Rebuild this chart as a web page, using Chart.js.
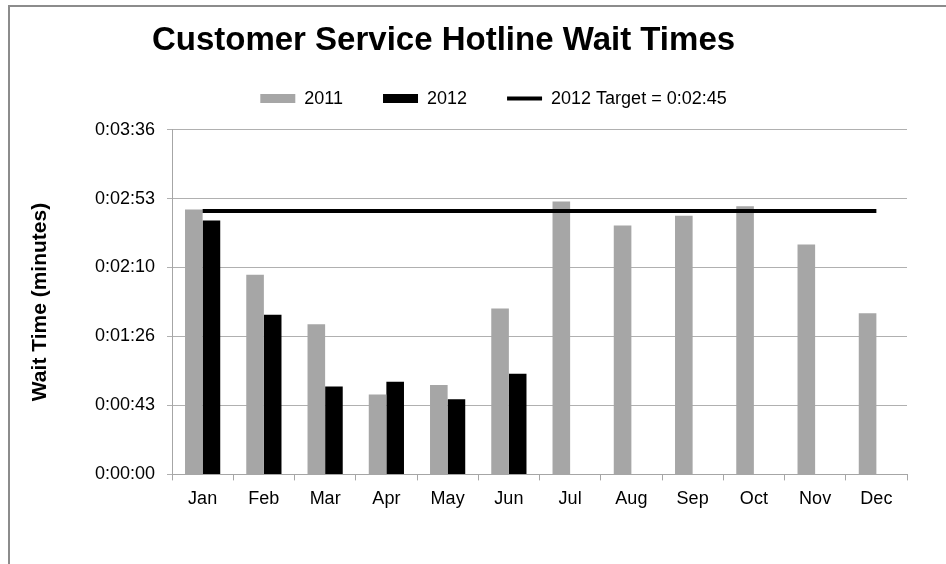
<!DOCTYPE html>
<html>
<head>
<meta charset="utf-8">
<title>Customer Service Hotline Wait Times</title>
<script src="https://cdn.jsdelivr.net/npm/chart.js@4.4.0/dist/chart.umd.min.js"></script>
<style>
    html, body { margin: 0; padding: 0; background: #fff; overflow: hidden; }
    /* grey frame of the chart object, cropped by the window */
    .frame { position: absolute; left: 8px; top: 5px; width: 980px; height: 600px; border-left: 2px solid #8c8c8c; border-top: 2px solid #8c8c8c; }
    .chart-box { position: relative; width: 946px; height: 564px; }
</style>
</head>
<body>
<div class="frame"></div>
<div class="chart-box"><canvas id="waitChart"></canvas></div>

<script>
// Data (wait times in seconds)
const months = ['Jan', 'Feb', 'Mar', 'Apr', 'May', 'Jun', 'Jul', 'Aug', 'Sep', 'Oct', 'Nov', 'Dec']
const waits2011 = [166, 125, 94, 50, 56, 104, 171, 156, 162, 168, 144, 101]
const waits2012 = [159, 100, 55, 58, 47, 63]
const target2012 = [165, 165, 165, 165, 165, 165, 165, 165, 165, 165, 165, 165]
const yTickLabels = ['0:00:00', '0:00:43', '0:01:26', '0:02:10', '0:02:53', '0:03:36']

Chart.defaults.font.family = "'Liberation Sans', Arial, sans-serif"
Chart.defaults.color = '#000'

// Excel places title and legend on their own, not centred on the same axis
function moveBox(box, dx, dy) {
    if (!box) return
    box.left += dx
    box.right += dx
    box.top += dy
    box.bottom += dy
}

const nudgeHeader = {
    id: 'nudgeHeader',
    afterLayout(chart) {
        moveBox(chart.titleBlock, -20, 0)
        moveBox(chart.legend, 30, -12)
    }
}

const ctx = document.getElementById('waitChart')
new Chart(ctx, {
    type: 'bar',
    data: {
        labels: months,
        datasets: [
            { label: '2011', data: waits2011, backgroundColor: '#a6a6a6', order: 1 },
            { label: '2012', data: waits2012, backgroundColor: '#000000', order: 1 },
            {
                type: 'line',
                label: '2012 Target = 0:02:45',
                data: target2012,
                borderColor: '#000000',
                backgroundColor: '#000000',
                borderWidth: 4,
                pointRadius: 0,
                order: 0   // drawn on top of the bars
            }
        ]
    },
    options: {
        responsive: true,
        maintainAspectRatio: false,
        animation: false,
        layout: { padding: { left: 20, right: 39, top: 9, bottom: 46 } },
        datasets: {
            bar: { categoryPercentage: 0.575, barPercentage: 1 }
        },
        scales: {
            x: {
                grid: { drawOnChartArea: false, color: '#a6a6a6', tickLength: 6 },
                border: { color: '#a6a6a6' },
                ticks: { color: '#000', font: { size: 18 }, padding: 8 }
            },
            y: {
                min: 0,
                max: 216,
                afterFit: function(scale) { scale.width = 152 },
                ticks: {
                    stepSize: 43.2,
                    color: '#000',
                    font: { size: 18 },
                    padding: 12,
                    callback: function(value, index) { return yTickLabels[index] }
                },
                grid: { color: '#b0b0b0', tickLength: 5 },
                border: { color: '#a6a6a6' },
                title: {
                    display: true,
                    text: 'Wait Time (minutes)',
                    color: '#000',
                    font: { size: 21, weight: 'bold' },
                    padding: { top: 8, bottom: 0 }
                }
            }
        },
        plugins: {
            title: {
                display: true,
                text: 'Customer Service Hotline Wait Times',
                color: '#000',
                font: { size: 33, weight: 'bold' },
                padding: { top: 12, bottom: 1 }
            },
            legend: {
                labels: {
                    color: '#000',
                    font: { size: 18 },
                    usePointStyle: true,
                    pointStyleWidth: 35,
                    boxHeight: 9,
                    padding: 40,
                    sort: function(a, b) { return a.datasetIndex - b.datasetIndex },
                    generateLabels: function(chart) {
                        const items = Chart.defaults.plugins.legend.labels.generateLabels(chart)
                        items.forEach(item => {
                            const ds = chart.data.datasets[item.datasetIndex]
                            item.pointStyle = ds.type === 'line' ? 'line' : 'rect'
                        })
                        return items
                    }
                }
            },
            tooltip: { enabled: false }
        }
    },
    plugins: [nudgeHeader]
})
</script>
</body>
</html>
